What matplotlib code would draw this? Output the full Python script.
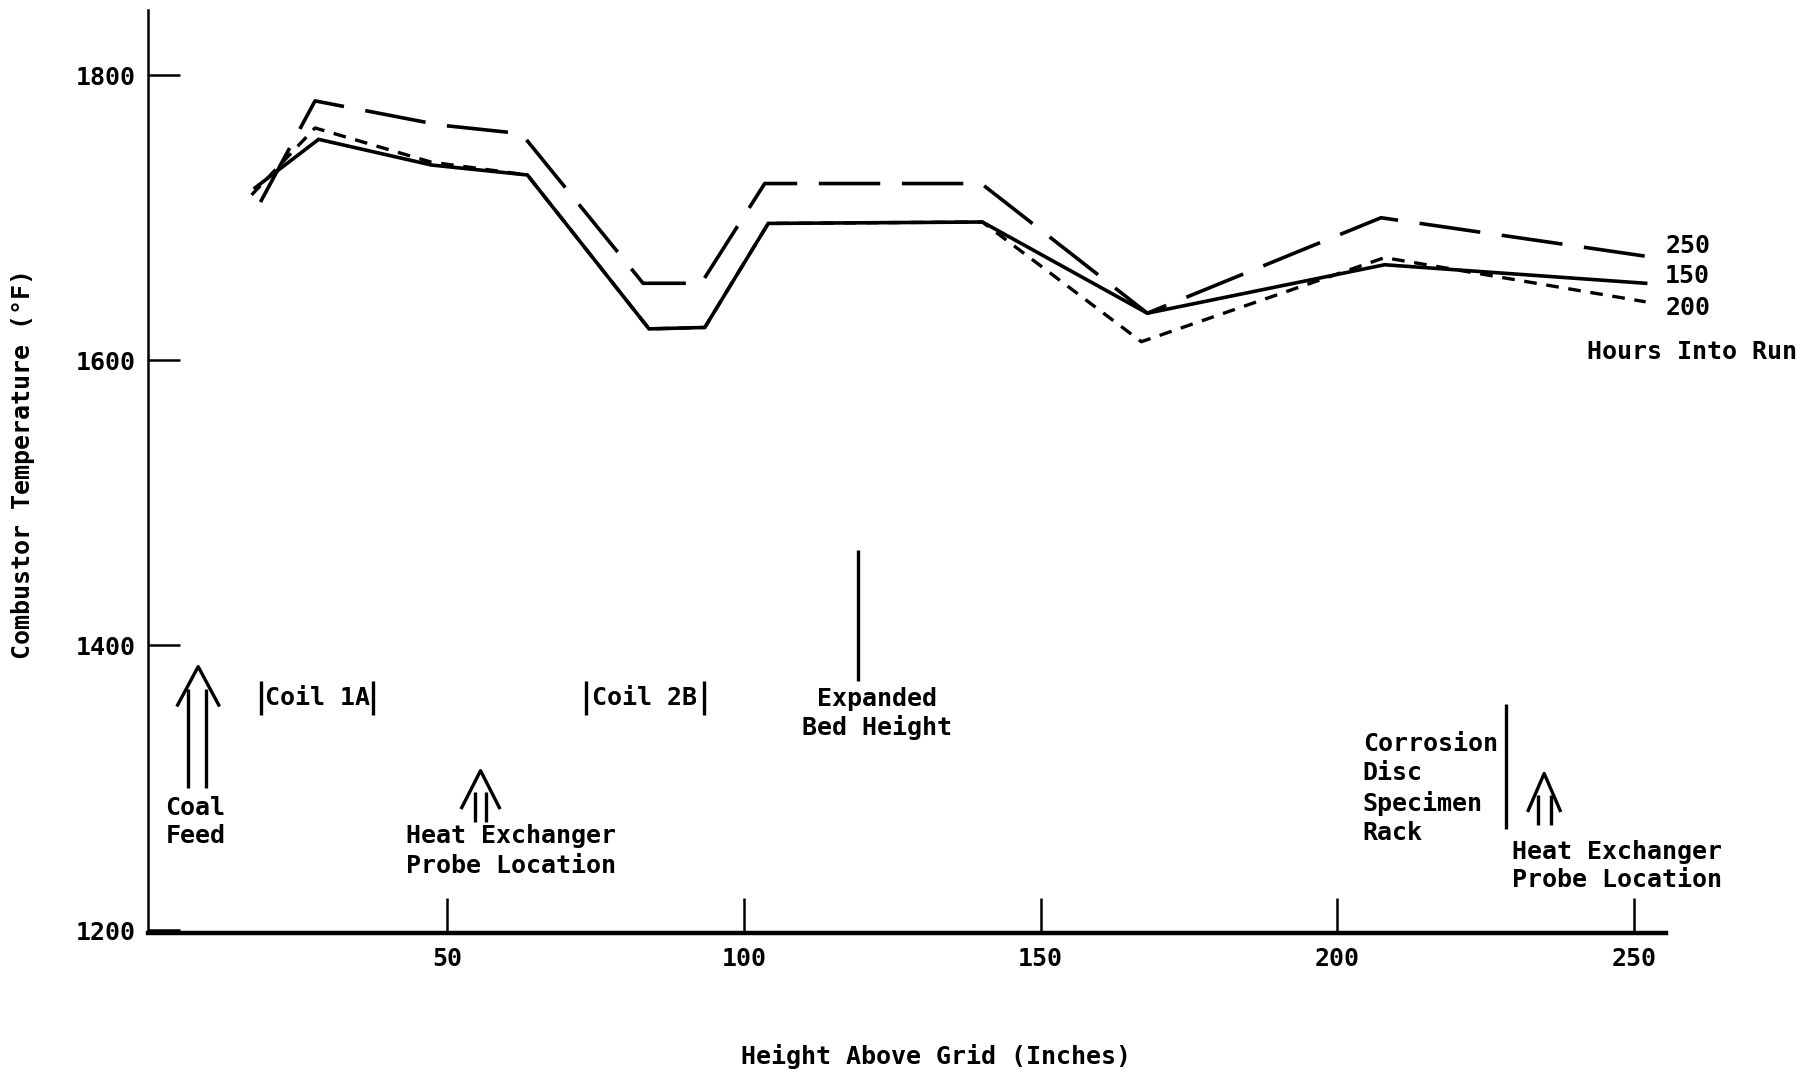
import matplotlib
matplotlib.use("Agg")
import matplotlib.pyplot as plt

# 读图估值：高度（英寸）与燃烧室温度（°F）
height_150 = [17.6, 28.3, 47.3, 63.5, 84.0, 93.4, 104.1, 140.2, 168.0, 208.0, 252.0]
temp_150 = [1721, 1755, 1737, 1730, 1622, 1623, 1696, 1697, 1633, 1667, 1654]

height_250 = [18.5, 27.7, 48.8, 62.5, 83.0, 92.8, 103.5, 140.0, 168.0, 207.4, 252.0]
temp_250 = [1711, 1782, 1765, 1759, 1654, 1654, 1724, 1724, 1633, 1700, 1673]

height_200 = [17.0, 27.7, 47.3, 63.5, 84.0, 93.4, 104.1, 140.2, 167.0, 208.0, 252.0]
temp_200 = [1716, 1763, 1739, 1730, 1622, 1623, 1696, 1697, 1613, 1672, 1641]

x_ticks = [50, 100, 150, 200, 250]
y_ticks = [1200, 1400, 1600, 1800]
run_hours = ["250", "150", "200"]

FONT = "DejaVu Sans Mono"
FS = 18
K = "black"

fig = plt.figure(figsize=(18.18, 10.75), dpi=100)
ax = fig.add_axes([0.0816, 0.132, 0.835, 0.859])

ax.plot(height_150, temp_150, color=K, lw=2.6, solid_joinstyle="miter")
ax.plot(height_250, temp_250, color=K, lw=2.6, dashes=(17, 6))
ax.plot(height_200, temp_200, color=K, lw=2.4, dashes=(3.8, 2.9))

ax.set_xlim(-0.4, 255.5)
ax.set_ylim(1198, 1846)
ax.set_xticks(x_ticks)
ax.set_yticks(y_ticks)
ax.spines["top"].set_visible(False)
ax.spines["right"].set_visible(False)
ax.spines["left"].set_linewidth(1.8)
ax.spines["bottom"].set_linewidth(3.2)
ax.tick_params(axis="x", direction="in", length=25, width=1.8, pad=10)
ax.tick_params(axis="y", direction="in", length=23, width=1.8, pad=9)
for lab in ax.get_xticklabels() + ax.get_yticklabels():
    lab.set_fontfamily(FONT)
    lab.set_fontsize(FS)
    lab.set_fontweight("bold")

txt = dict(family=FONT, fontsize=FS, fontweight="bold", color=K, clip_on=False)

fig.text(0.515, 0.017, "Height Above Grid (Inches)", ha="center", va="center", **txt)
fig.text(0.0128, 0.5685, "Combustor Temperature (°F)", ha="center", va="center",
         rotation=90, **txt)

# 右侧曲线标签
for label, y in zip(run_hours, [1680, 1659, 1637]):
    ax.text(255.3, y, label, ha="left", va="center", **txt)
ax.text(242.2, 1606, "Hours Into Run", ha="left", va="center", **txt)


def double_arrow(xc, x_left, x_right, y_bottom, y_apex, arm_dx, arm_dy):
    ln = dict(color=K, lw=2.4, clip_on=False, solid_capstyle="butt")
    ax.plot([x_left, x_left], [y_bottom, y_apex - arm_dy * 0.55], **ln)
    ax.plot([x_right, x_right], [y_bottom, y_apex - arm_dy * 0.55], **ln)
    ax.plot([xc - arm_dx, xc, xc + arm_dx], [y_apex - arm_dy, y_apex, y_apex - arm_dy], **ln)


def vbar(x, y0, y1, lw=2.4):
    ax.plot([x, x], [y0, y1], color=K, lw=lw, clip_on=False, solid_capstyle="butt")


# 给煤口
double_arrow(8.0, 6.3, 9.4, 1300, 1385, 3.6, 28)
ax.text(2.5, 1286, "Coal", ha="left", va="center", **txt)
ax.text(2.5, 1266, "Feed", ha="left", va="center", **txt)

# 盘管
for x0, x1, name in [(18.6, 37.5, "Coil 1A"), (73.4, 93.2, "Coil 2B")]:
    vbar(x0, 1351, 1375)
    vbar(x1, 1351, 1375)
    ax.text((x0 + x1) / 2, 1363, name, ha="center", va="center", **txt)

# 换热器探头（左）
double_arrow(55.6, 54.7, 56.6, 1276, 1312, 3.3, 27)
ax.text(43.0, 1266, "Heat Exchanger", ha="left", va="center", **txt)
ax.text(43.0, 1245, "Probe Location", ha="left", va="center", **txt)

# 膨胀床高度
vbar(119.3, 1375, 1467)
ax.text(122.5, 1362, "Expanded", ha="center", va="center", **txt)
ax.text(122.5, 1342, "Bed Height", ha="center", va="center", **txt)

# 腐蚀试片架
vbar(228.5, 1271, 1359)
for i, w in enumerate(["Corrosion", "Disc", "Specimen", "Rack"]):
    ax.text(204.3, 1331 - i * 21, w, ha="left", va="center", **txt)

# 换热器探头（右）
double_arrow(234.9, 233.9, 236.0, 1274, 1310, 2.8, 27)
ax.text(229.5, 1255, "Heat Exchanger", ha="left", va="center", **txt)
ax.text(229.5, 1235, "Probe Location", ha="left", va="center", **txt)

fig.savefig("out.png", dpi=100)
